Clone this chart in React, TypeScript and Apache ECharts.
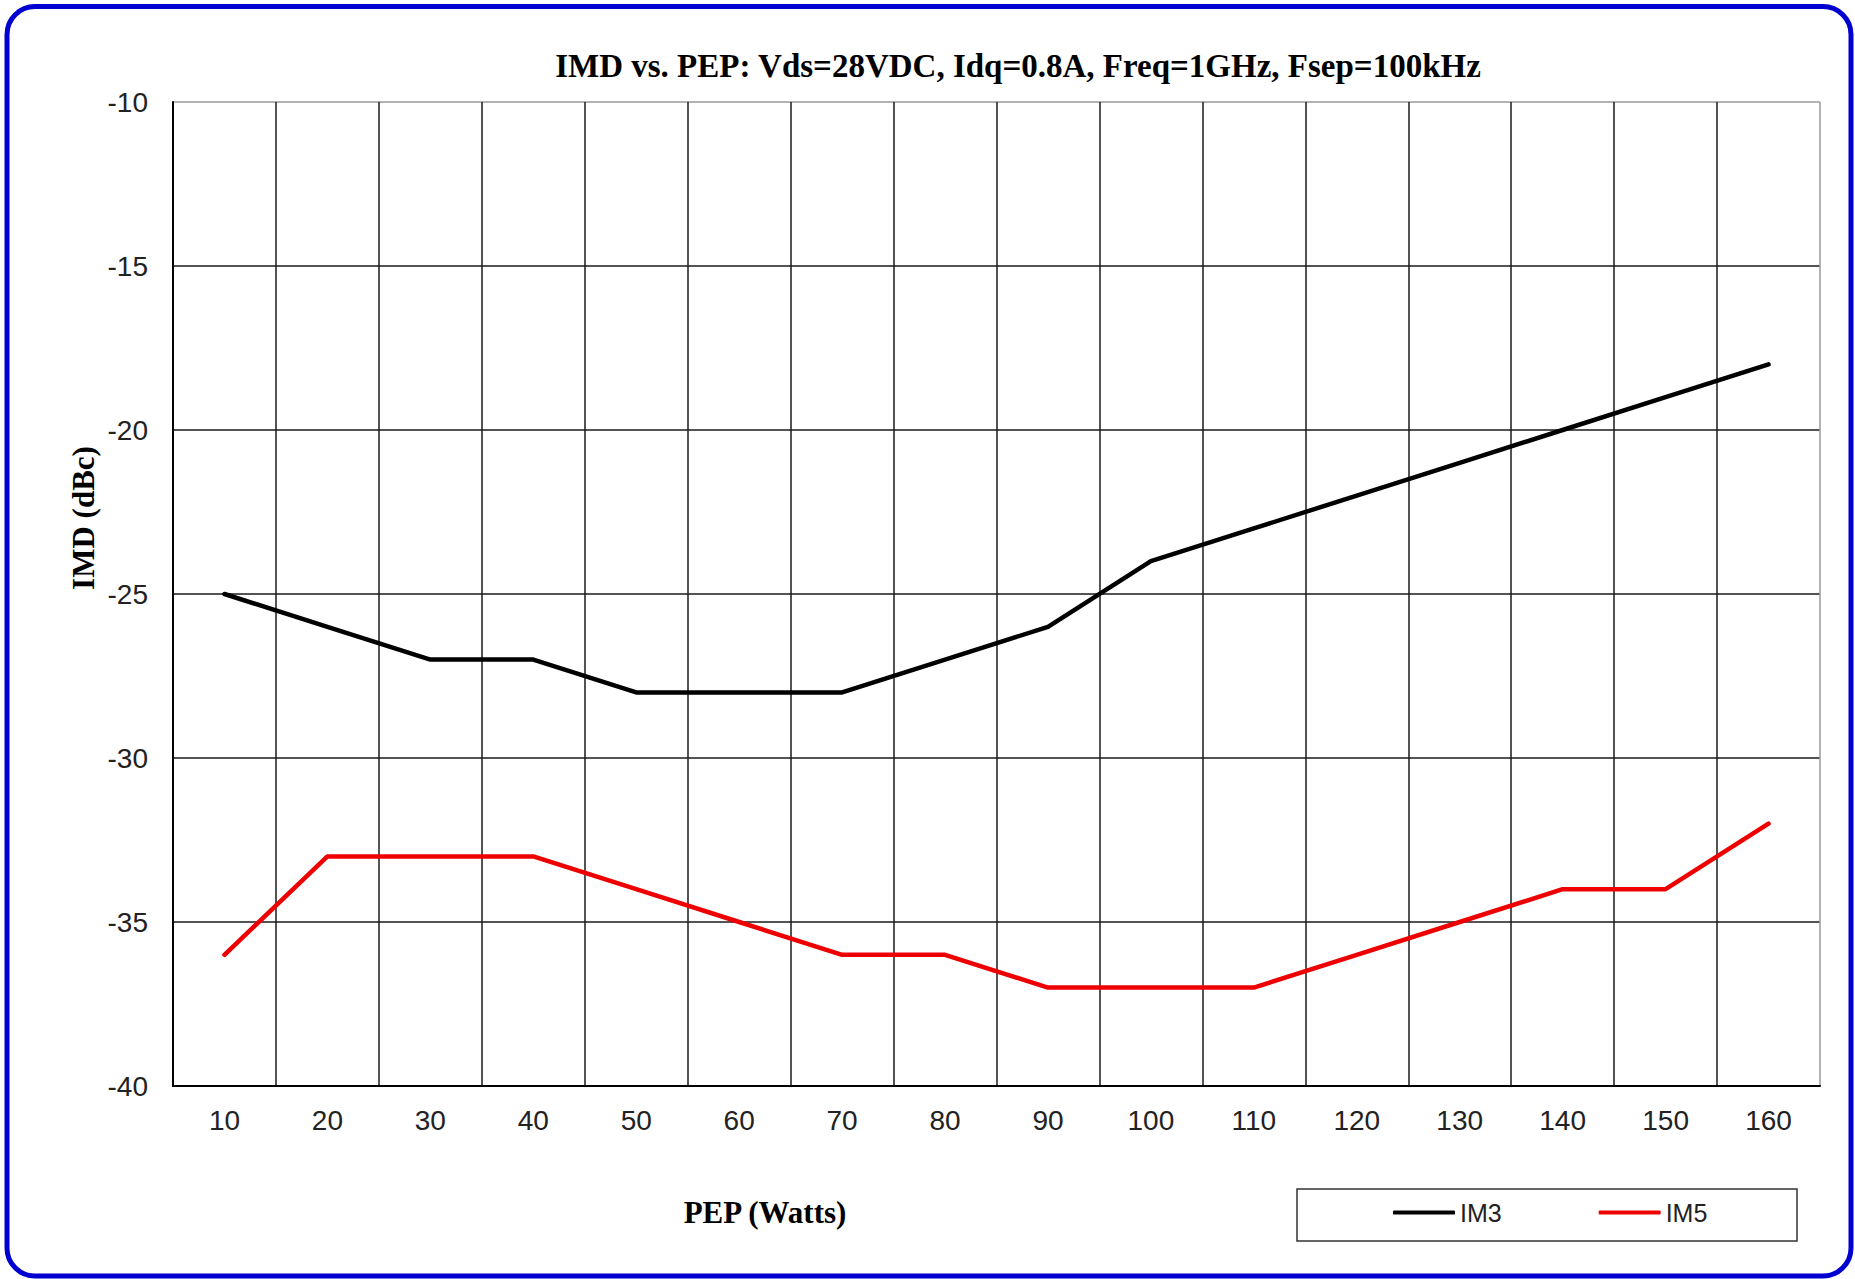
import React, { useEffect, useRef } from "react";
import * as echarts from "echarts";

const categories = ["10", "20", "30", "40", "50", "60", "70", "80", "90", "100", "110", "120", "130", "140", "150", "160"];
const im3Values = [-25, -26, -27, -27, -28, -28, -28, -27, -26, -24, -23, -22, -21, -20, -19, -18];
const im5Values = [-36, -33, -33, -33, -34, -35, -36, -36, -37, -37, -37, -36, -35, -34, -34, -32];
const yMin = -40;
const yMax = -10;
const yInterval = 5;

const titleText = "IMD vs. PEP: Vds=28VDC, Idq=0.8A, Freq=1GHz, Fsep=100kHz";
const xName = "PEP (Watts)";
const yName = "IMD (dBc)";

const W = 1855;
const H = 1279;
const GRID = "#1a1a1a";
const BORDER_GRAY = "#9a9a9a";

export default function App() {
  const ref = useRef<HTMLDivElement>(null);

  useEffect(() => {
    if (!ref.current) return;
    const chart = echarts.init(ref.current, undefined, { renderer: "svg", width: W, height: H });

    const nY = Math.round((yMax - yMin) / yInterval) + 1;
    const yLineColors = Array.from({ length: nY }, (_, i) => (i === nY - 1 ? BORDER_GRAY : GRID));
    const nX = categories.length + 1;
    const xLineColors = Array.from({ length: nX }, (_, i) => (i === nX - 1 ? BORDER_GRAY : GRID));

    chart.setOption({
      animation: false,
      backgroundColor: "#ffffff",
      title: {
        text: titleText,
        left: 1018,
        top: 66,
        padding: 0,
        textAlign: "center",
        textVerticalAlign: "middle",
        textStyle: {
          fontFamily: "'Liberation Serif', 'Times New Roman', serif",
          fontWeight: "bold",
          fontSize: 33,
          color: "#000",
        },
      },
      grid: {
        left: 173,
        top: 102,
        right: W - 1820,
        bottom: H - 1086,
        containLabel: false,
      },
      legend: {
        data: ["IM3", "IM5"],
        left: 1393,
        top: 1200,
        padding: 0,
        orient: "horizontal",
        icon: "roundRect",
        itemWidth: 62,
        itemHeight: 4,
        itemGap: 97,
        textStyle: {
          fontFamily: "'Liberation Sans', Arial, sans-serif",
          fontSize: 25,
          color: "#222",
          padding: [0, 0, 0, 0],
        },
      },
      xAxis: {
        type: "category",
        data: categories,
        boundaryGap: true,
        axisLine: { show: true, lineStyle: { color: "#000", width: 2 } },
        axisTick: { show: false },
        axisLabel: {
          interval: 0,
          margin: 20,
          fontFamily: "'Liberation Sans', Arial, sans-serif",
          fontSize: 28,
          color: "#222",
        },
        splitLine: { show: true, interval: 0, lineStyle: { color: xLineColors, width: 1.5 } },
      },
      yAxis: {
        type: "value",
        min: yMin,
        max: yMax,
        interval: yInterval,
        axisLine: { show: true, lineStyle: { color: "#000", width: 2 } },
        axisTick: { show: false },
        axisLabel: {
          margin: 25,
          fontFamily: "'Liberation Sans', Arial, sans-serif",
          fontSize: 28,
          color: "#222",
        },
        splitLine: { show: true, lineStyle: { color: yLineColors, width: 1.5 } },
      },
      series: [
        {
          name: "IM3",
          type: "line",
          data: im3Values,
          showSymbol: false,
          symbol: "none",
          itemStyle: { color: "#000000" },
          lineStyle: { color: "#000000", width: 4.5, join: "round", cap: "round" },
          z: 3,
        },
        {
          name: "IM5",
          type: "line",
          data: im5Values,
          showSymbol: false,
          symbol: "none",
          itemStyle: { color: "#EE0000" },
          lineStyle: { color: "#EE0000", width: 4.5, join: "round", cap: "round" },
          z: 3,
        },
      ],
      graphic: [
        {
          type: "rect",
          z: 100,
          silent: true,
          shape: { x: 7, y: 6.5, width: 1844, height: 1269.5, r: 28 },
          style: { fill: "none", stroke: "#0000D0", lineWidth: 5 },
        },
        {
          type: "rect",
          z: 1,
          silent: true,
          shape: { x: 1297, y: 1189, width: 500, height: 52 },
          style: { fill: "none", stroke: "#333333", lineWidth: 1.5 },
        },
        {
          type: "text",
          x: 765,
          y: 1212,
          silent: true,
          style: {
            text: xName,
            align: "center",
            verticalAlign: "middle",
            fontFamily: "'Liberation Serif', 'Times New Roman', serif",
            fontWeight: "bold",
            fontSize: 31,
            fill: "#000",
          },
        },
        {
          type: "text",
          x: 83,
          y: 518,
          rotation: Math.PI / 2,
          silent: true,
          style: {
            text: yName,
            align: "center",
            verticalAlign: "middle",
            fontFamily: "'Liberation Serif', 'Times New Roman', serif",
            fontWeight: "bold",
            fontSize: 31,
            fill: "#000",
          },
        },
      ],
    });

    return () => {
      chart.dispose();
    };
  }, []);

  return (
    <div
      ref={ref}
      style={{ position: "fixed", left: 0, top: 0, width: W, height: H, background: "#fff" }}
    />
  );
}
